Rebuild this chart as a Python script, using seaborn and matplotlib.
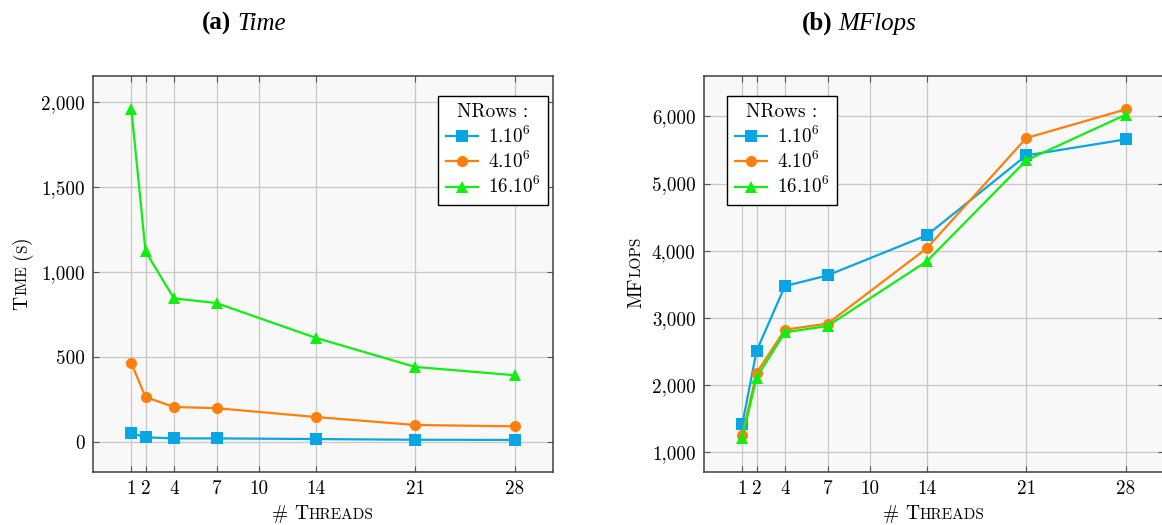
import numpy as np
import pandas as pd
import seaborn as sns
import matplotlib.pyplot as plt
from matplotlib.ticker import FuncFormatter
from matplotlib.transforms import IdentityTransform

# data
threads = [1, 2, 4, 7, 14, 21, 28]
nrows = ['1.10$^{6}$', '4.10$^{6}$', '16.10$^{6}$']
time_1m = [52, 27, 21, 21, 17, 13, 12]
time_4m = [464, 265, 206, 199, 147, 100, 92]
time_16m = [1963, 1123, 846, 818, 613, 442, 393]
mflops_1m = [1421, 2510, 3475, 3634, 4232, 5420, 5658]
mflops_4m = [1262, 2183, 2827, 2916, 4039, 5678, 6104]
mflops_16m = [1218, 2114, 2787, 2881, 3845, 5346, 6025]
xticks = [1, 2, 4, 7, 10, 14, 21, 28]

colors = ['#0aa6e4', '#ff7f0a', '#11ee11']
markers = ['s', 'o', '^']

df = pd.DataFrame({
    'threads': threads * 3,
    'nrows': [n for n in nrows for _ in threads],
    'time': time_1m + time_4m + time_16m,
    'mflops': mflops_1m + mflops_4m + mflops_16m,
})

plt.rcParams['font.family'] = 'cmr10'
plt.rcParams['mathtext.fontset'] = 'cm'
plt.rcParams['axes.unicode_minus'] = False

W, H = 1162, 525
fig = plt.figure(figsize=(W / 100, H / 100), dpi=100)
ax1 = fig.add_axes([93 / W, 1 - 472 / H, 460 / W, 396 / H])
ax2 = fig.add_axes([704 / W, 1 - 472 / H, 460 / W, 396 / H])

comma = FuncFormatter(lambda v, p: f'{int(v):,}')

for ax, col, ylim, yticks, legx in [
    (ax1, 'time', (-177, 2156), [0, 500, 1000, 1500, 2000], 0.75),
    (ax2, 'mflops', (709, 6601), [1000, 2000, 3000, 4000, 5000, 6000], 0.05),
]:
    sns.lineplot(data=df, x='threads', y=col, hue='nrows', style='nrows',
                 palette=colors, markers=markers, dashes=False, ax=ax,
                 linewidth=1.6, markersize=8, markeredgewidth=0, zorder=3)
    ax.set_facecolor('#f8f8f8')
    ax.set_xlim(-1.7, 30.7)
    ax.set_ylim(*ylim)
    ax.set_xticks(xticks)
    ax.set_yticks(yticks)
    ax.yaxis.set_major_formatter(comma)
    ax.grid(True, color='#c8c8c8', linewidth=0.9, zorder=0)
    ax.set_axisbelow(True)
    ax.tick_params(direction='in', top=True, right=True, length=4, width=0.8,
                   color='#555555', labelsize=13.8, pad=6)
    for s in ax.spines.values():
        s.set_color('#404040')
        s.set_linewidth(1.1)
    ax.set_xlabel('')
    ax.set_ylabel('')
    handles, labels = ax.get_legend_handles_labels()
    leg = ax.legend(handles, labels, title='NRows :', loc='upper left',
                    bbox_to_anchor=(legx, 0.95), borderaxespad=0,
                    fontsize=13.8, title_fontsize=13.8, fancybox=False,
                    framealpha=1, edgecolor='black', handlelength=1.7,
                    handletextpad=0.5, borderpad=0.4, labelspacing=0.22)
    leg.get_frame().set_linewidth(1.0)


def small_caps(x, y, parts, rotation=0):
    # parts: (text, fontsize, gap in px before)
    r = fig.canvas.get_renderer()
    items = []
    for s, size, gap in parts:
        t = fig.text(0, 0, s, fontsize=size, rotation=rotation,
                     rotation_mode='anchor', ha='left', va='baseline',
                     transform=IdentityTransform())
        bb = t.get_window_extent(r)
        items.append((t, gap, bb.width if rotation == 0 else bb.height))
    total = sum(g + w for _, g, w in items)
    pos = -total / 2
    for t, g, w in items:
        pos += g
        if rotation == 0:
            t.set_position((x + pos, y))
        else:
            t.set_position((x, y + pos))
        pos += w


big, small = 14, 11
small_caps(323, 6, [('#', big, 0), ('T', big, 6), ('HREADS', small, 0.5)])
small_caps(934, 6, [('#', big, 0), ('T', big, 6), ('HREADS', small, 0.5)])
small_caps(27, H - 273, [('T', big, 0), ('IME', small, 0.5), ('(', big, 5),
                         ('S', small, 0), (')', big, 0)], rotation=90)
small_caps(641, H - 272, [('MF', big, 0), ('LOPS', small, 0.5)], rotation=90)

# subfigure captions
for cx, a, b in [(244, '(a)', 'Time'), (859, '(b)', 'MFlops')]:
    t1 = fig.text(0, 0, a, fontsize=18, fontweight='bold',
                  family='Liberation Serif', transform=IdentityTransform(),
                  ha='left', va='baseline')
    t2 = fig.text(0, 0, b, fontsize=18, fontstyle='italic',
                  family='Liberation Serif', transform=IdentityTransform(),
                  ha='left', va='baseline')
    r = fig.canvas.get_renderer()
    w1 = t1.get_window_extent(r).width
    w2 = t2.get_window_extent(r).width
    x0 = cx - (w1 + 6 + w2) / 2
    t1.set_position((x0, H - 30))
    t2.set_position((x0 + w1 + 6, H - 30))

fig.savefig('out.png', dpi=100)
